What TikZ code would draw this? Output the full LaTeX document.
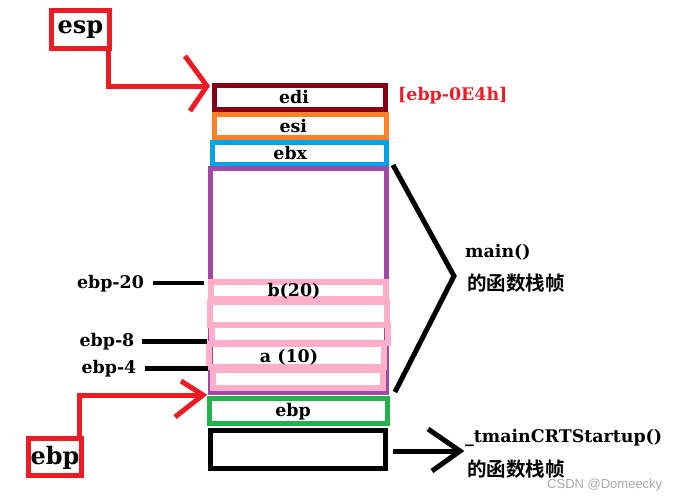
\documentclass[tikz,border=0pt]{standalone}
\usepackage{fontspec}
\setmainfont{DejaVu Serif}
\newfontfamily\cjk{Noto Sans CJK SC Bold}
\newfontfamily\wmfont{Liberation Sans}
\usetikzlibrary{calc}
\definecolor{pred}{HTML}{ED1C24}
\definecolor{edired}{HTML}{880015}
\definecolor{esiorange}{HTML}{FF7F27}
\definecolor{ebxblue}{HTML}{00A2E8}
\definecolor{framepurple}{HTML}{A349A4}
\definecolor{varpink}{HTML}{FFAEC9}
\definecolor{ebpgreen}{HTML}{22B14C}
\definecolor{wmgray}{HTML}{A8A8A8}
\begin{document}
\begin{tikzpicture}[x=1pt,y=-1pt,
  txt/.style={inner sep=0pt, font=\bfseries\fontsize{17.4}{20}\selectfont},
  bigtxt/.style={inner sep=0pt, font=\bfseries\fontsize{24}{28}\selectfont},
  cjktxt/.style={inner sep=0pt, font=\cjk\fontsize{19.5}{22}\selectfont},
  regbox/.style={draw=#1, line width=5pt, inner sep=0pt, rectangle},
  pinkrow/.style={draw=varpink, line width=6pt, inner sep=0pt, rectangle},
  redln/.style={draw=pred, line width=5pt},
  blkln/.style={draw=black, line width=5pt},
  tickln/.style={draw=black, line width=4.5pt}]
\useasboundingbox (0,0) rectangle (677,501);

% stack boxes
\node[regbox=edired, minimum width=171pt, minimum height=24pt,
  label={[txt,xshift=-6pt]center:edi}] (edi) at (300,97.5) {};
\node[regbox=esiorange, minimum width=171.5pt, minimum height=23pt,
  label={[txt,xshift=-7pt]center:esi}] (esi) at (300.25,126) {};
\node[regbox=ebxblue, minimum width=173.5pt, minimum height=22pt,
  label={[txt,xshift=-9pt]center:ebx}] (ebx) at (299.25,153.5) {};
\node[regbox=framepurple, line width=4.5pt, minimum width=176pt, minimum height=224.5pt] (frame) at (298.5,280.75) {};

\node[pinkrow, minimum width=175pt, minimum height=17pt,
  label={[txt,xshift=-4.5pt,yshift=-0.5pt]center:b(20)}] (r1) at (298.5,290.5) {};
\node[pinkrow, minimum width=177pt, minimum height=23pt] (r2) at (298.5,313.5) {};
\node[pinkrow, minimum width=176pt, minimum height=18pt] (r3) at (300,334) {};
\node[pinkrow, minimum width=175pt, minimum height=23pt,
  label={[txt,xshift=-7.5pt,yshift=-1.5pt]center:a (10)}] (r4) at (296.5,355.5) {};
\node[pinkrow, minimum width=170pt, minimum height=18pt] (r5) at (298,379) {};

\node[regbox=ebpgreen, minimum width=178pt, minimum height=25pt,
  label={[txt,xshift=-5.5pt,yshift=-1pt]center:ebp}] (savedebp) at (298.5,411) {};
\node[regbox=black, minimum width=175pt, minimum height=38pt] (crtframe) at (298,449.5) {};

% register labels
\node[regbox=pred, minimum width=58pt, minimum height=38pt,
  label={[bigtxt]center:esp}] (esp) at (80.5,29.5) {};
\node[regbox=pred, minimum width=53pt, minimum height=37pt,
  label={[bigtxt,yshift=-1pt]center:ebp}] (ebpreg) at (55,457) {};

% esp arrow
\coordinate (espTip) at (207,86);
\draw[redln] ([xshift=27.5pt]esp.south) |- (espTip);
\draw[redln] ($(espTip)+(-22,-30)$) -- (espTip) -- ($(espTip)+(-17,25)$);

% ebp arrow
\coordinate (ebpTip) at (203,395);
\draw[redln] ([xshift=24pt]ebpreg.north) |- (ebpTip);
\draw[redln] ($(ebpTip)+(-22,-14)$) -- (ebpTip) -- ($(ebpTip)+(-28,22)$);

% offset labels
\node[txt, text=pred, anchor=west] (offE4) at (398,96) {[ebp-0E4h]};
\node[txt] (l20) at (110.5,284) {ebp-20};
\node[txt] (l8) at (107,341.5) {ebp-8};
\node[txt] (l4) at (109,368.5) {ebp-4};
\draw[tickln] ([xshift=9pt,yshift=1pt]l20.east) -- ([xshift=-4pt,yshift=1pt]l20.east -| frame.west);
\draw[tickln] ([xshift=7pt]l8.east) -- ([xshift=-1pt]l8.east -| frame.west);
\draw[tickln] ([xshift=8pt]l4.east) -- ([xshift=0pt]l4.east -| frame.west);

% main bracket
\coordinate (brTop) at (393,165);
\coordinate (brApex) at (454,276);
\coordinate (brBot) at (395,392);
\draw[blkln, line join=miter] (brTop) -- (brApex) -- (brBot);
\node[txt, anchor=west] (mainT) at (465,252) {main()};
\node[cjktxt, anchor=west] (mainC) at (467,283) {的函数栈帧};

% crt arrow
\coordinate (crtTip) at (460,451);
\draw[blkln, shorten <=5pt] ([yshift=-1.5pt]crtframe.east) -- (crtTip);
\draw[blkln] ($(crtTip)+(-32,-22)$) -- (crtTip) -- ($(crtTip)+(-28,20)$);
\node[txt, anchor=west] (crtT) at (465,438) {\_tmainCRTStartup()};
\node[cjktxt, anchor=west] (crtC) at (467,469) {的函数栈帧};

% watermark
\node[inner sep=0pt, anchor=west, text=wmgray, font=\wmfont\fontsize{13}{15}\selectfont] (wm) at (547,485) {CSDN @Domeecky};
\end{tikzpicture}
\end{document}
